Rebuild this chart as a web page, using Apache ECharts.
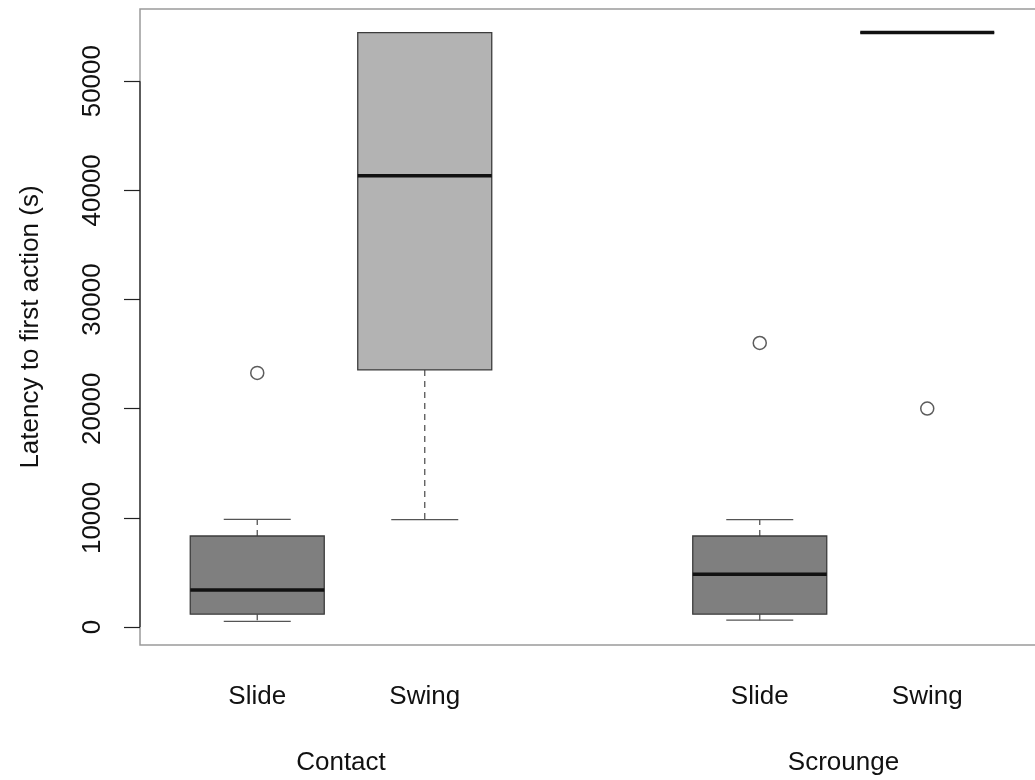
<!DOCTYPE html>
<html><head><meta charset="utf-8">
<script src="https://cdn.jsdelivr.net/npm/echarts@6/dist/echarts.min.js"></script>
<style>html,body{margin:0;padding:0;background:#fff}#c{width:1035px;height:780px}</style>
</head><body><div id="c"></div>
<script>
// ---- data ----
const groups = ['Contact', 'Scrounge'];
const groupPositions = [1.5, 4.5];
const treatments = ['Slide', 'Swing', 'Slide', 'Swing'];
const positions = [1, 2, 4, 5];
// each row: [min, Q1, median, Q3, max]
const boxStats = [
  [520, 1190, 3410, 8345, 9870],
  [9840, 23550, 41340, 54450, 54450],
  [640, 1190, 4845, 8345, 9840],
  [54450, 54450, 54450, 54450, 54450]
];
const outlierPositions = [1, 4, 5];
const outlierValues = [23280, 26020, 20020];
const yTicks = [0, 10000, 20000, 30000, 40000, 50000];
const yTitle = 'Latency to first action (s)';

// ---- styles ----
const boxFills = ['#7f7f7f', '#b3b3b3', '#7f7f7f', '#b3b3b3'];
const FONT = '"Liberation Sans", Arial, Helvetica, sans-serif';
const FS = 26;
const xRange = [0.3, 5.7];

// R-style y limits: data range extended by 4%
const allVals = boxStats.flat().concat(outlierValues);
const dMin = Math.min(...allVals), dMax = Math.max(...allVals);
const pad = 0.04 * (dMax - dMin);
const yMin = dMin - pad, yMax = dMax + pad;

const labelFor = {};
positions.forEach((p, i) => { labelFor[p] = treatments[i]; });
const groupFor = {};
groupPositions.forEach((p, i) => { groupFor[p] = groups[i]; });

const chart = echarts.init(document.getElementById('c'), null, {renderer: 'canvas'});
chart.setOption({
  animation: false,
  backgroundColor: '#fff',
  grid: {left: 140, top: 9, width: 904.5, height: 636, show: true,
         outerBoundsMode: 'none', containLabel: false,
         borderColor: '#9a9a9a', borderWidth: 1.5, backgroundColor: 'transparent'},
  xAxis: [{
    type: 'value', min: xRange[0], max: xRange[1], position: 'bottom',
    axisLine: {show: false}, axisTick: {show: false}, splitLine: {show: false},
    axisLabel: {customValues: positions, formatter: v => labelFor[v] || '',
                margin: 39, fontSize: FS, fontFamily: FONT, color: '#111'}
  }, {
    type: 'value', min: xRange[0], max: xRange[1], position: 'bottom',
    axisLine: {show: false}, axisTick: {show: false}, splitLine: {show: false},
    axisLabel: {customValues: groupPositions, formatter: v => groupFor[v] || '',
                margin: 105, fontSize: FS, fontFamily: FONT, color: '#111'}
  }],
  yAxis: {
    type: 'value', min: yMin, max: yMax,
    axisLine: {show: false}, splitLine: {show: false},
    axisTick: {show: true, customValues: yTicks, length: 16, lineStyle: {color: '#222', width: 1.2}},
    axisLabel: {customValues: yTicks, formatter: v => String(v), rotate: 90, margin: 34,
                fontSize: FS, fontFamily: FONT, color: '#111'},
    name: yTitle, nameLocation: 'middle', nameGap: 96,
    nameTextStyle: {fontSize: FS, fontFamily: FONT, color: '#111'}
  },
  series: [{
    type: 'custom',
    data: [[yTicks[0], yTicks[yTicks.length - 1]]],
    encode: {y: [0, 1]},
    renderItem: function (params, api) {
      const a = api.coord([xRange[0], api.value(0)]);
      const b = api.coord([xRange[0], api.value(1)]);
      return {type: 'line', shape: {x1: a[0], y1: a[1], x2: b[0], y2: b[1]},
              style: {stroke: '#222', lineWidth: 1.2}};
    },
    z: 5, silent: true
  }, {
    type: 'custom',
    data: positions.map((p, i) => [p].concat(boxStats[i])),
    encode: {x: 0, y: [1, 2, 3, 4, 5]},
    renderItem: function (params, api) {
      const x = api.value(0);
      const yv = [1, 2, 3, 4, 5].map(d => api.coord([x, api.value(d)])[1]);
      const cx = api.coord([x, api.value(3)])[0];
      const hb = api.size([0.4, 0])[0];
      const hc = api.size([0.2, 0])[0];
      const fill = boxFills[params.dataIndex];
      const wStyle = {stroke: '#555', lineWidth: 1.3, lineDash: [6, 5]};
      const cStyle = {stroke: '#555', lineWidth: 1.3};
      return {type: 'group', children: [
        {type: 'line', shape: {x1: cx, y1: yv[1], x2: cx, y2: yv[0]}, style: wStyle},
        {type: 'line', shape: {x1: cx, y1: yv[3], x2: cx, y2: yv[4]}, style: wStyle},
        {type: 'line', shape: {x1: cx - hc, y1: yv[0], x2: cx + hc, y2: yv[0]}, style: cStyle},
        {type: 'line', shape: {x1: cx - hc, y1: yv[4], x2: cx + hc, y2: yv[4]}, style: cStyle},
        {type: 'rect', shape: {x: cx - hb, y: yv[3], width: 2 * hb, height: yv[1] - yv[3]},
         style: {fill: fill, stroke: '#3c3c3c', lineWidth: 1.3}},
        {type: 'line', shape: {x1: cx - hb, y1: yv[2], x2: cx + hb, y2: yv[2]},
         style: {stroke: '#111', lineWidth: 3.5}}
      ]};
    },
    z: 3, silent: true
  }, {
    type: 'scatter',
    data: outlierPositions.map((p, i) => [p, outlierValues[i]]),
    symbol: 'circle', symbolSize: 13,
    itemStyle: {color: '#fff', borderColor: '#333', borderWidth: 1.5},
    z: 4, silent: true
  }]
});
</script>
</body></html>
